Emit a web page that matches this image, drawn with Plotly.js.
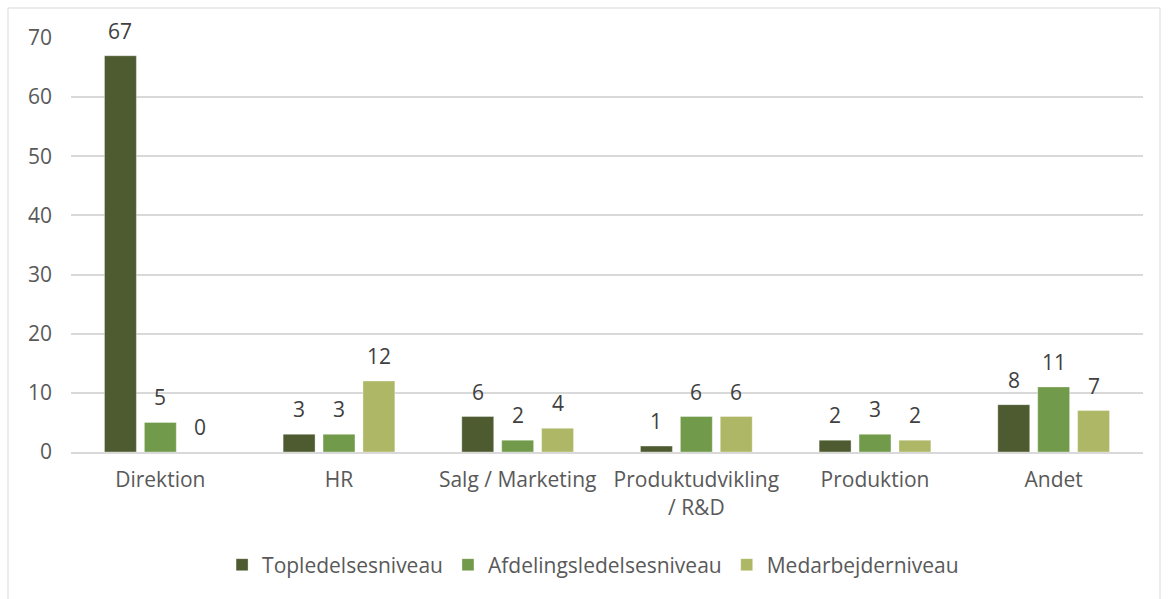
<!DOCTYPE html>
<html>
<head>
<meta charset="utf-8">
<script src="https://cdn.plot.ly/plotly-3.0.1.min.js"></script>
<style>
  html, body { margin: 0; padding: 0; background: #fff; }
  #chart { width: 1169px; height: 599px; }
</style>
</head>
<body>
<div id="chart"></div>
<script>
const categories = ['Direktion', 'HR', 'Salg / Marketing', 'Produktudvikling<br>/ R&D', 'Produktion', 'Andet'];
const topledelse = [67, 3, 6, 1, 2, 8];
const afdelingsledelse = [5, 3, 2, 6, 3, 11];
const medarbejder = [0, 12, 4, 6, 2, 7];
const seriesNames = ['Topledelsesniveau', 'Afdelingsledelsesniveau', 'Medarbejderniveau'];
const colors = ['#4e5b31', '#719a4a', '#aeb765'];

const textColor = '#595959';
const fontFamily = '"Open Sans", sans-serif';
const fontSize = 21;
const allSeries = [topledelse, afdelingsledelse, medarbejder];

const data = allSeries.map((values, i) => ({
  type: 'bar',
  name: seriesNames[i],
  x: categories,
  y: values,
  marker: {color: colors[i], line: {color: 'rgba(255,255,255,0.35)', width: 1}},
  hoverinfo: 'x+y+name'
}));

// value labels sit a bit higher above the bars than plotly's own outside text
let annotations = [];
allSeries.forEach((values, i) => {
  values.forEach((v, j) => {
    annotations.push({
      x: categories[j],
      y: v,
      text: String(v),
      showarrow: false,
      xshift: (i - 1) * 40,
      yshift: 25,
      font: {size: fontSize, color: '#404040', family: fontFamily}
    });
  });
});

const m = {l: 71, r: 26, t: 38, b: 147};
const plotW = 1169 - m.l - m.r;
const plotH = 599 - m.t - m.b;

const layout = {
  width: 1169,
  height: 599,
  margin: m,
  paper_bgcolor: '#fff',
  plot_bgcolor: '#fff',
  font: {family: fontFamily, size: fontSize, color: textColor},
  barmode: 'group',
  bargap: 0.33,
  bargroupgap: 0.2,
  showlegend: true,
  legend: {
    orientation: 'h',
    x: 0.487,
    xanchor: 'center',
    y: (452 - 565) / plotH,
    yanchor: 'middle',
    font: {size: fontSize, color: textColor},
    itemwidth: 30,
    traceorder: 'normal'
  },
  xaxis: {
    type: 'category',
    showgrid: false,
    showline: true,
    linecolor: '#d9d9d9',
    linewidth: 2,
    ticks: '',
    ticklabelstandoff: 8,
    tickfont: {size: fontSize, color: textColor}
  },
  yaxis: {
    range: [0, 70],
    dtick: 10,
    tick0: 0,
    showgrid: true,
    gridcolor: '#d9d9d9',
    gridwidth: 2,
    zeroline: false,
    showline: false,
    ticks: '',
    ticklabelstandoff: 18,
    tickfont: {size: fontSize, color: textColor}
  },
  annotations: annotations,
  shapes: [{
    type: 'rect',
    xref: 'paper',
    yref: 'paper',
    x0: (8 - m.l) / plotW,
    x1: (1160 - m.l) / plotW,
    y0: (452 - 620) / plotH,
    y1: (452 - 8) / plotH,
    line: {color: '#d9d9d9', width: 1},
    fillcolor: 'rgba(0,0,0,0)',
    layer: 'below'
  }]
};

Plotly.newPlot('chart', data, layout, {displayModeBar: false});
</script>
</body>
</html>
